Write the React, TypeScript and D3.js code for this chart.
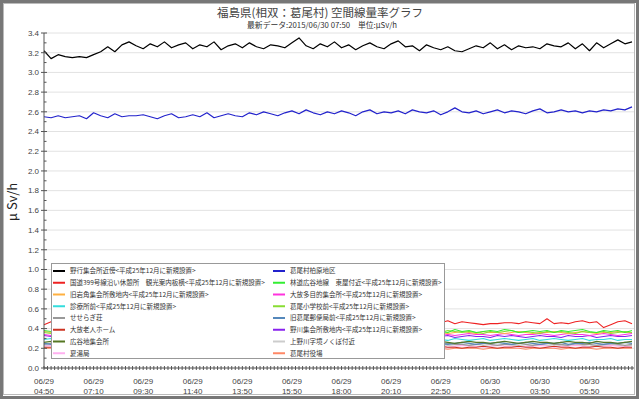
import React from 'react';
import * as d3 from 'd3';

// x positions are sample indices; one labelled tick every 7 samples
const tickDates = ['06/29', '06/29', '06/29', '06/29', '06/29', '06/29', '06/29', '06/29', '06/29', '06/30', '06/30', '06/30'];
const tickTimes = ['04:50', '07:10', '09:30', '11:40', '13:50', '15:50', '18:00', '20:10', '22:50', '01:20', '03:50', '05:50'];
const yTicks = [0, 0.2, 0.4, 0.6, 0.8, 1.0, 1.2, 1.4, 1.6, 1.8, 2.0, 2.2, 2.4, 2.6, 2.8, 3.0, 3.2, 3.4];

const nogyo = [
  3.22, 3.14, 3.18, 3.16, 3.15, 3.16, 3.15, 3.18, 3.21, 3.26, 3.21, 3.28,
  3.31, 3.27, 3.24, 3.29, 3.26, 3.31, 3.25, 3.28, 3.30, 3.24, 3.28, 3.26,
  3.31, 3.23, 3.27, 3.29, 3.25, 3.30, 3.26, 3.24, 3.28, 3.27, 3.25, 3.30,
  3.35, 3.27, 3.24, 3.29, 3.26, 3.31, 3.25, 3.28, 3.23, 3.27, 3.30, 3.26,
  3.24, 3.29, 3.32, 3.26, 3.27, 3.22, 3.28, 3.25, 3.23, 3.26, 3.22, 3.21,
  3.24, 3.27, 3.25, 3.30, 3.24, 3.28, 3.23, 3.27, 3.25, 3.26, 3.24, 3.29,
  3.27, 3.26, 3.30, 3.24, 3.29, 3.22, 3.30, 3.25, 3.29, 3.33, 3.29, 3.31,
];
const kashiwabara = [
  2.55, 2.54, 2.56, 2.54, 2.55, 2.56, 2.53, 2.59, 2.56, 2.54, 2.58, 2.55,
  2.56, 2.56, 2.57, 2.55, 2.53, 2.56, 2.58, 2.54, 2.55, 2.57, 2.55, 2.59,
  2.54, 2.56, 2.58, 2.56, 2.55, 2.59, 2.57, 2.60, 2.58, 2.56, 2.59, 2.61,
  2.58, 2.62, 2.59, 2.57, 2.60, 2.58, 2.61, 2.59, 2.56, 2.60, 2.62, 2.58,
  2.60, 2.59, 2.61, 2.58, 2.62, 2.60, 2.59, 2.61, 2.57, 2.60, 2.64, 2.60,
  2.59, 2.61, 2.58, 2.60, 2.62, 2.59, 2.61, 2.60, 2.58, 2.61, 2.63, 2.59,
  2.60, 2.62, 2.60, 2.61, 2.59, 2.61, 2.60, 2.62, 2.61, 2.63, 2.62, 2.65,
];
const kokudo = [
  0.44, 0.47, 0.46, 0.45, 0.47, 0.46, 0.45, 0.46, 0.47, 0.45, 0.46, 0.44,
  0.46, 0.47, 0.45, 0.46, 0.46, 0.44, 0.47, 0.45, 0.46, 0.45, 0.47, 0.46,
  0.44, 0.46, 0.45, 0.47, 0.46, 0.45, 0.46, 0.44, 0.47, 0.45, 0.46, 0.46,
  0.45, 0.47, 0.44, 0.46, 0.45, 0.46, 0.47, 0.45, 0.46, 0.44, 0.46, 0.45,
  0.47, 0.46, 0.45, 0.46, 0.44, 0.46, 0.47, 0.45, 0.46, 0.48, 0.45, 0.47,
  0.46, 0.45, 0.44, 0.45, 0.45, 0.46, 0.46, 0.45, 0.47, 0.46, 0.45, 0.50,
  0.45, 0.46, 0.45, 0.47, 0.48, 0.46, 0.47, 0.41, 0.44, 0.47, 0.48, 0.45,
];
const iwazuno = [
  0.37, 0.36, 0.35, 0.37, 0.36, 0.36, 0.35, 0.37, 0.36, 0.35, 0.36, 0.37,
  0.36, 0.35, 0.36, 0.37, 0.36, 0.35, 0.36, 0.36, 0.37, 0.35, 0.36, 0.36,
  0.35, 0.37, 0.36, 0.36, 0.35, 0.36, 0.37, 0.36, 0.35, 0.36, 0.36, 0.37,
  0.36, 0.35, 0.36, 0.37, 0.36, 0.36, 0.35, 0.36, 0.37, 0.36, 0.35, 0.36,
  0.36, 0.37, 0.35, 0.36, 0.36, 0.35, 0.37, 0.36, 0.36, 0.35, 0.36, 0.37,
  0.36, 0.35, 0.37, 0.36, 0.36, 0.35, 0.36, 0.37, 0.36, 0.35, 0.36, 0.36,
  0.37, 0.36, 0.35, 0.36, 0.37, 0.36, 0.35, 0.36, 0.36, 0.37, 0.36, 0.36,
];
const shinryojo = [
  0.29, 0.30, 0.28, 0.29, 0.30, 0.29, 0.28, 0.29, 0.30, 0.28, 0.29, 0.29,
  0.30, 0.28, 0.29, 0.30, 0.29, 0.28, 0.29, 0.29, 0.30, 0.28, 0.29, 0.30,
  0.29, 0.28, 0.29, 0.30, 0.29, 0.29, 0.28, 0.30, 0.29, 0.28, 0.29, 0.30,
  0.29, 0.29, 0.28, 0.29, 0.30, 0.29, 0.28, 0.29, 0.30, 0.29, 0.28, 0.29,
  0.30, 0.28, 0.29, 0.29, 0.30, 0.28, 0.29, 0.30, 0.29, 0.28, 0.30, 0.29,
  0.28, 0.29, 0.30, 0.28, 0.29, 0.30, 0.29, 0.28, 0.29, 0.30, 0.28, 0.29,
  0.30, 0.29, 0.28, 0.29, 0.30, 0.28, 0.29, 0.29, 0.30, 0.28, 0.29, 0.29,
];
const seseragi = [
  0.24, 0.25, 0.24, 0.23, 0.24, 0.25, 0.24, 0.24, 0.23, 0.25, 0.24, 0.24,
  0.25, 0.24, 0.23, 0.24, 0.25, 0.24, 0.24, 0.23, 0.24, 0.25, 0.24, 0.23,
  0.24, 0.24, 0.25, 0.23, 0.24, 0.24, 0.25, 0.24, 0.23, 0.24, 0.25, 0.24,
  0.24, 0.23, 0.25, 0.24, 0.24, 0.23, 0.24, 0.25, 0.24, 0.24, 0.23, 0.24,
  0.25, 0.24, 0.23, 0.24, 0.24, 0.25, 0.24, 0.23, 0.24, 0.25, 0.24, 0.24,
  0.23, 0.24, 0.25, 0.24, 0.23, 0.24, 0.24, 0.25, 0.24, 0.23, 0.24, 0.25,
  0.24, 0.24, 0.23, 0.25, 0.24, 0.24, 0.23, 0.24, 0.25, 0.24, 0.23, 0.24,
];
const obanaHome = [
  0.21, 0.21, 0.22, 0.21, 0.20, 0.21, 0.21, 0.22, 0.21, 0.21, 0.20, 0.21,
  0.22, 0.21, 0.21, 0.20, 0.21, 0.22, 0.21, 0.21, 0.21, 0.20, 0.21, 0.22,
  0.21, 0.21, 0.20, 0.21, 0.21, 0.22, 0.21, 0.20, 0.21, 0.21, 0.22, 0.21,
  0.21, 0.20, 0.21, 0.22, 0.21, 0.21, 0.21, 0.20, 0.21, 0.22, 0.21, 0.21,
  0.20, 0.21, 0.21, 0.22, 0.21, 0.21, 0.20, 0.21, 0.22, 0.21, 0.21, 0.20,
  0.21, 0.21, 0.22, 0.21, 0.20, 0.21, 0.21, 0.22, 0.21, 0.21, 0.20, 0.21,
  0.22, 0.21, 0.21, 0.20, 0.21, 0.21, 0.22, 0.21, 0.21, 0.20, 0.21, 0.21,
];
const hiroyachi = [
  0.26, 0.27, 0.26, 0.25, 0.26, 0.27, 0.26, 0.26, 0.25, 0.27, 0.26, 0.26,
  0.27, 0.26, 0.25, 0.26, 0.26, 0.27, 0.26, 0.25, 0.26, 0.27, 0.26, 0.26,
  0.25, 0.26, 0.27, 0.26, 0.26, 0.25, 0.26, 0.27, 0.26, 0.25, 0.26, 0.26,
  0.27, 0.26, 0.26, 0.25, 0.26, 0.27, 0.26, 0.26, 0.25, 0.26, 0.27, 0.26,
  0.26, 0.25, 0.27, 0.26, 0.26, 0.27, 0.25, 0.26, 0.27, 0.26, 0.25, 0.26,
  0.27, 0.26, 0.26, 0.25, 0.26, 0.27, 0.26, 0.25, 0.26, 0.27, 0.26, 0.26,
  0.25, 0.26, 0.27, 0.26, 0.26, 0.25, 0.27, 0.26, 0.26, 0.25, 0.26, 0.27,
];
const natsuyu = [
  0.22, 0.23, 0.22, 0.22, 0.21, 0.22, 0.23, 0.22, 0.22, 0.21, 0.22, 0.22,
  0.23, 0.22, 0.21, 0.22, 0.22, 0.23, 0.22, 0.22, 0.21, 0.22, 0.23, 0.22,
  0.22, 0.21, 0.22, 0.22, 0.23, 0.22, 0.21, 0.22, 0.22, 0.23, 0.22, 0.22,
  0.21, 0.22, 0.23, 0.22, 0.22, 0.21, 0.22, 0.22, 0.23, 0.22, 0.21, 0.22,
  0.22, 0.23, 0.22, 0.22, 0.21, 0.22, 0.23, 0.22, 0.22, 0.21, 0.22, 0.23,
  0.22, 0.22, 0.21, 0.22, 0.23, 0.22, 0.22, 0.21, 0.22, 0.22, 0.23, 0.22,
  0.21, 0.22, 0.22, 0.23, 0.22, 0.21, 0.22, 0.22, 0.23, 0.22, 0.22, 0.21,
];
const rindo = [
  0.38, 0.37, 0.36, 0.38, 0.37, 0.39, 0.37, 0.36, 0.38, 0.37, 0.38, 0.36,
  0.37, 0.38, 0.37, 0.39, 0.36, 0.37, 0.38, 0.37, 0.36, 0.38, 0.37, 0.39,
  0.37, 0.36, 0.38, 0.37, 0.38, 0.36, 0.37, 0.39, 0.37, 0.38, 0.36, 0.37,
  0.38, 0.37, 0.36, 0.38, 0.39, 0.37, 0.38, 0.36, 0.37, 0.38, 0.37, 0.36,
  0.38, 0.37, 0.39, 0.37, 0.36, 0.38, 0.37, 0.38, 0.37, 0.36, 0.39, 0.37,
  0.38, 0.36, 0.37, 0.38, 0.37, 0.39, 0.38, 0.36, 0.37, 0.38, 0.37, 0.38,
  0.36, 0.38, 0.37, 0.38, 0.39, 0.37, 0.36, 0.38, 0.37, 0.38, 0.36, 0.38,
];
const obanaTamokuteki = [
  0.34, 0.33, 0.35, 0.34, 0.33, 0.34, 0.35, 0.34, 0.33, 0.34, 0.34, 0.35,
  0.33, 0.34, 0.34, 0.35, 0.34, 0.33, 0.34, 0.35, 0.34, 0.34, 0.33, 0.34,
  0.35, 0.34, 0.33, 0.34, 0.34, 0.35, 0.34, 0.33, 0.34, 0.35, 0.34, 0.34,
  0.33, 0.34, 0.35, 0.34, 0.34, 0.33, 0.34, 0.35, 0.34, 0.33, 0.34, 0.34,
  0.35, 0.34, 0.33, 0.34, 0.35, 0.34, 0.34, 0.33, 0.35, 0.34, 0.33, 0.34,
  0.35, 0.34, 0.34, 0.33, 0.34, 0.35, 0.34, 0.33, 0.34, 0.34, 0.35, 0.34,
  0.33, 0.34, 0.35, 0.34, 0.34, 0.33, 0.34, 0.35, 0.34, 0.33, 0.34, 0.35,
];
const shogakko = [
  0.36, 0.35, 0.36, 0.37, 0.35, 0.36, 0.36, 0.35, 0.37, 0.36, 0.35, 0.36,
  0.37, 0.36, 0.35, 0.36, 0.36, 0.37, 0.35, 0.36, 0.36, 0.35, 0.37, 0.36,
  0.35, 0.36, 0.37, 0.36, 0.36, 0.35, 0.36, 0.37, 0.36, 0.35, 0.36, 0.36,
  0.37, 0.35, 0.36, 0.36, 0.37, 0.36, 0.35, 0.36, 0.36, 0.37, 0.36, 0.35,
  0.36, 0.37, 0.36, 0.35, 0.36, 0.36, 0.37, 0.35, 0.36, 0.38, 0.37, 0.36,
  0.37, 0.36, 0.35, 0.37, 0.36, 0.37, 0.38, 0.36, 0.37, 0.36, 0.35, 0.37,
  0.36, 0.37, 0.36, 0.35, 0.37, 0.36, 0.36, 0.37, 0.35, 0.36, 0.37, 0.36,
];
const yubinkyoku = [
  0.25, 0.24, 0.25, 0.26, 0.25, 0.24, 0.25, 0.25, 0.26, 0.24, 0.25, 0.25,
  0.24, 0.25, 0.26, 0.25, 0.24, 0.25, 0.25, 0.26, 0.25, 0.24, 0.25, 0.25,
  0.26, 0.24, 0.25, 0.25, 0.24, 0.26, 0.25, 0.25, 0.24, 0.25, 0.26, 0.25,
  0.25, 0.24, 0.25, 0.26, 0.25, 0.24, 0.25, 0.25, 0.26, 0.25, 0.24, 0.25,
  0.25, 0.26, 0.24, 0.25, 0.25, 0.24, 0.26, 0.25, 0.25, 0.24, 0.25, 0.26,
  0.25, 0.24, 0.25, 0.25, 0.26, 0.25, 0.24, 0.25, 0.26, 0.25, 0.24, 0.25,
  0.25, 0.26, 0.24, 0.25, 0.25, 0.26, 0.25, 0.24, 0.25, 0.25, 0.26, 0.25,
];
const nogawa = [
  0.33, 0.32, 0.33, 0.32, 0.31, 0.33, 0.32, 0.33, 0.32, 0.31, 0.32, 0.33,
  0.32, 0.33, 0.32, 0.31, 0.32, 0.33, 0.32, 0.32, 0.33, 0.31, 0.32, 0.33,
  0.32, 0.32, 0.31, 0.33, 0.32, 0.33, 0.32, 0.31, 0.32, 0.33, 0.32, 0.32,
  0.33, 0.32, 0.31, 0.32, 0.33, 0.32, 0.32, 0.31, 0.33, 0.32, 0.33, 0.32,
  0.31, 0.32, 0.33, 0.32, 0.32, 0.31, 0.33, 0.32, 0.32, 0.33, 0.31, 0.32,
  0.33, 0.32, 0.32, 0.31, 0.33, 0.32, 0.33, 0.32, 0.31, 0.32, 0.33, 0.32,
  0.32, 0.31, 0.33, 0.32, 0.32, 0.33, 0.31, 0.32, 0.33, 0.32, 0.32, 0.33,
];
const kaminogawa = [
  0.23, 0.23, 0.22, 0.23, 0.24, 0.23, 0.22, 0.23, 0.23, 0.24, 0.23, 0.22,
  0.23, 0.23, 0.24, 0.22, 0.23, 0.23, 0.24, 0.23, 0.22, 0.23, 0.23, 0.24,
  0.23, 0.22, 0.23, 0.24, 0.23, 0.23, 0.22, 0.23, 0.24, 0.23, 0.23, 0.22,
  0.23, 0.24, 0.23, 0.22, 0.23, 0.23, 0.24, 0.23, 0.22, 0.23, 0.23, 0.24,
  0.23, 0.22, 0.23, 0.24, 0.23, 0.23, 0.22, 0.23, 0.24, 0.23, 0.22, 0.23,
  0.23, 0.24, 0.23, 0.22, 0.23, 0.24, 0.23, 0.23, 0.22, 0.23, 0.24, 0.23,
  0.22, 0.23, 0.23, 0.24, 0.23, 0.22, 0.23, 0.23, 0.24, 0.23, 0.22, 0.23,
];
const yakuba = [
  0.20, 0.20, 0.20, 0.19, 0.20, 0.20, 0.20, 0.20, 0.19, 0.20, 0.20, 0.20,
  0.20, 0.19, 0.20, 0.20, 0.20, 0.20, 0.20, 0.19, 0.20, 0.20, 0.20, 0.20,
  0.19, 0.20, 0.20, 0.20, 0.20, 0.20, 0.19, 0.20, 0.20, 0.20, 0.20, 0.19,
  0.20, 0.20, 0.20, 0.20, 0.19, 0.20, 0.20, 0.20, 0.20, 0.20, 0.19, 0.20,
  0.20, 0.20, 0.20, 0.19, 0.20, 0.20, 0.20, 0.20, 0.20, 0.19, 0.20, 0.20,
  0.20, 0.20, 0.19, 0.20, 0.20, 0.20, 0.20, 0.20, 0.19, 0.20, 0.20, 0.20,
  0.20, 0.19, 0.20, 0.20, 0.20, 0.20, 0.19, 0.20, 0.20, 0.20, 0.20, 0.20,
];

const SET = '<平成25年12月に新規設置>';
const stations = [
  { name: '野行集会所近傍' + SET, color: '#000000', values: nogyo },
  { name: '国道399号線沿い休憩所　観光案内板横' + SET, color: '#ee2222', values: kokudo },
  { name: '旧岩角集会所敷地内' + SET, color: '#ffb040', values: iwazuno },
  { name: '診療所前' + SET, color: '#33dddd', values: shinryojo },
  { name: 'せせらぎ荘', color: '#999999', values: seseragi },
  { name: '大放老人ホーム', color: '#cc3322', values: obanaHome },
  { name: '広谷地集会所', color: '#557722', values: hiroyachi },
  { name: '夏湯局', color: '#ffb0f0', values: natsuyu },
  { name: '葛尾村柏原地区', color: '#2222cc', values: kashiwabara },
  { name: '林道広谷地線　東屋付近' + SET, color: '#33ee33', values: rindo },
  { name: '大放多目的集会所' + SET, color: '#ff33dd', values: obanaTamokuteki },
  { name: '葛尾小学校前' + SET, color: '#88dd33', values: shogakko },
  { name: '旧葛尾郵便局前' + SET, color: '#5588bb', values: yubinkyoku },
  { name: '野川集会所敷地内' + SET, color: '#8822ee', values: nogawa },
  { name: '上野川字境ノくぼ付近', color: '#cccccc', values: kaminogawa },
  { name: '葛尾村役場', color: '#ff8866', values: yakuba },
];

const JP = "'Noto Sans CJK JP', 'Noto Sans', sans-serif";
const NUM = "'Liberation Sans', Arial, sans-serif";

export default function App() {
  const N = nogyo.length;
  const left = 44, right = 632, top = 33, bottom = 368;
  const x = d3.scaleLinear().domain([0, N - 1]).range([left, right]);
  const y = d3.scaleLinear().domain([0, 3.4]).range([bottom, top]);
  const line = d3.line<number>().x((d, i) => x(i)).y(d => y(d));

  const drawOrder = [15, 14, 7, 5, 4, 12, 6, 3, 13, 10, 2, 11, 9, 1, 8, 0];
  const minorY = d3.range(0.1, 3.4, 0.2);
  const minorX = d3.range(0, N - 0.5, 0.5);

  return (
    <svg width={640} height={400} style={{ position: 'absolute', left: 0, top: 0, display: 'block' }}>
      <rect x={0} y={0} width={640} height={400} fill="#ffffff" />
      <rect x={1.5} y={1.5} width={636} height={396} fill="none" stroke="#777" strokeWidth={3} />
      <rect x={3.5} y={3.5} width={631} height={391} fill="none" stroke="#bbb" strokeWidth={1} />

      <text x={320} y={17} textAnchor="middle" fontFamily={JP} fontSize={11.5} fill="#444">
        福島県(相双：葛尾村) 空間線量率グラフ
      </text>
      <text x={322} y={27.5} textAnchor="middle" fontFamily={JP} fontSize={7.8} fill="#333">
        最新データ:2015/06/30 07:50　単位:μSv/h
      </text>

      {yTicks.filter(v => v > 0).map(v => (
        <line key={'g' + v} x1={left} x2={634} y1={y(v)} y2={y(v)} stroke="#e2e2e2" strokeWidth={1} />
      ))}

      {drawOrder.map(k => (
        <path key={'s' + k} d={line(stations[k].values) || ''} fill="none" stroke={stations[k].color}
          strokeWidth={k === 0 || k === 8 ? 1.2 : 1.1} strokeLinejoin="round" />
      ))}

      <line x1={left} x2={left} y1={top} y2={bottom} stroke="#555" />
      <line x1={left} x2={634} y1={bottom} y2={bottom} stroke="#555" />
      {yTicks.map(v => (
        <g key={'t' + v}>
          <line x1={left - 3} x2={left + 3} y1={y(v)} y2={y(v)} stroke="#555" />
          <text x={39} y={y(v)} dy="0.35em" textAnchor="end" fontFamily={NUM} fontSize={8} fill="#444">
            {v.toFixed(1)}
          </text>
        </g>
      ))}
      {minorY.map(v => (
        <line key={'m' + v} x1={left} x2={left + 2.5} y1={y(v)} y2={y(v)} stroke="#555" />
      ))}
      {minorX.map(i => (
        <line key={'mx' + i} x1={x(i)} x2={x(i)} y1={bottom - 2} y2={bottom + 2} stroke="#555" />
      ))}
      {tickTimes.map((t, j) => (
        <g key={'xl' + j} fontFamily={NUM} fontSize={8} fill="#444" textAnchor="middle">
          <text x={x(j * 7)} y={384}>{tickDates[j]}</text>
          <text x={x(j * 7)} y={394}>{t}</text>
        </g>
      ))}

      <text transform="translate(17,202) rotate(-90)" textAnchor="middle" fontFamily={JP} fontSize={13} fill="#222">
        μ Sv/h
      </text>

      <rect x={51.5} y={263.5} width={393} height={95} fill="#ffffff" stroke="#999" />
      {stations.map((s, k) => {
        const col = k < 8 ? 0 : 1;
        const row = k % 8;
        const lx = col === 0 ? 53 : 273;
        const ly = 271 + row * 11.75;
        return (
          <g key={'lg' + k}>
            <line x1={lx} x2={lx + 12} y1={ly} y2={ly} stroke={s.color} strokeWidth={2} />
            <text x={lx + 17} y={ly} dy="0.35em" fontFamily={JP} fontSize={6.5} fill="#333">{s.name}</text>
          </g>
        );
      })}
    </svg>
  );
}
